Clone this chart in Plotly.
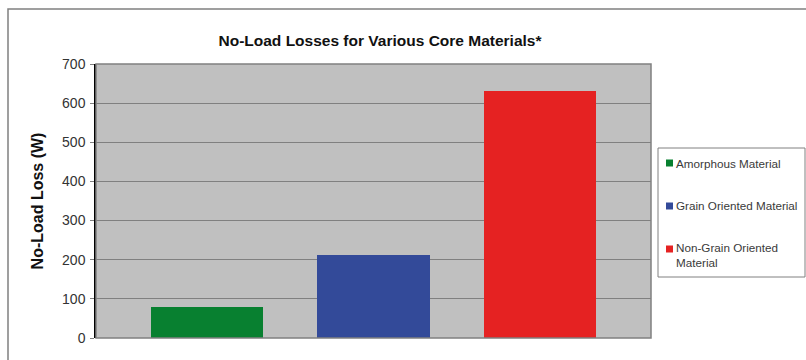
import plotly.graph_objects as go

# ---- data ----
materials = ["Amorphous Material", "Grain Oriented Material", "Non-Grain Oriented Material"]
legend_labels = ["Amorphous Material", "Grain Oriented Material", "Non-Grain Oriented<br>Material"]
losses_w = [80, 211, 630]
bar_colors = ["#088030", "#334A99", "#E52222"]
y_ticks = [0, 100, 200, 300, 400, 500, 600, 700]

W, H = 806, 360
L, R, T, B = 96, 651, 64, 338  # plot area in px


def px(x):
    return (x - L) / (R - L)


def py(y):
    return (B - y) / (B - T)


fig = go.Figure()
for i, (name, val, col) in enumerate(zip(materials, losses_w, bar_colors)):
    fig.add_trace(go.Bar(
        x=[i], y=[val], name=name, width=0.675,
        marker=dict(color=col, line=dict(width=0)),
        showlegend=False,
        hovertemplate=name + ": %{y} W<extra></extra>",
    ))

shapes = []
# outer chart border (cropped on right/bottom)
shapes.append(dict(type="rect", xref="paper", yref="paper",
                   x0=px(8), x1=px(830), y0=py(9), y1=py(400),
                   line=dict(color="#808080", width=1.5), layer="below"))
# plot area border (gray)
shapes.append(dict(type="rect", xref="paper", yref="paper",
                   x0=0, x1=1, y0=0, y1=1,
                   line=dict(color="#808080", width=1.5), layer="above"))
# legend box
shapes.append(dict(type="rect", xref="paper", yref="paper",
                   x0=px(658), x1=px(805), y0=py(148), y1=py(277),
                   line=dict(color="#808080", width=1), fillcolor="white"))

annotations = []
legend_y = [163, 206, 255]
for lab, col, yc in zip(legend_labels, bar_colors, legend_y):
    sq_y = yc if "<br>" not in lab else yc - 6
    shapes.append(dict(type="rect", xref="paper", yref="paper",
                       x0=px(666), x1=px(673), y0=py(sq_y - 3.5), y1=py(sq_y + 3.5),
                       line=dict(width=0), fillcolor=col))
    annotations.append(dict(xref="paper", yref="paper", x=px(674), y=py(yc),
                            xanchor="left", yanchor="middle", align="left",
                            text=lab, showarrow=False,
                            font=dict(family="Liberation Sans, Arial", size=11.7, color="#3a3a3a")))

fig.update_layout(
    width=W, height=H,
    margin=dict(l=L, r=W - R, t=T, b=H - B),
    paper_bgcolor="white",
    plot_bgcolor="#C0C0C0",
    font=dict(family="Liberation Sans, Arial", color="#333333"),
    title=dict(text="<b>No-Load Losses for Various Core Materials*</b>",
               xref="container", yref="container",
               x=380 / W, y=1 - 41 / H, xanchor="center", yanchor="middle",
               font=dict(family="Liberation Sans, Arial", size=15.5, color="#111111")),
    xaxis=dict(range=[-0.669, 2.669], showticklabels=False, showgrid=False,
               zeroline=False, ticks="", showline=False, fixedrange=True),
    yaxis=dict(range=[0, 700], tickvals=y_ticks, showgrid=True,
               gridcolor="#808080", gridwidth=1, zeroline=False,
               showline=True, linecolor="black", linewidth=1.5,
               ticks="outside", ticklen=4, tickcolor="#808080",
               ticklabelstandoff=2,
               tickfont=dict(size=14, color="#333333"),
               title=dict(text="<b>No-Load Loss (W)</b>", standoff=14,
                          font=dict(size=16, color="#111111"))),
    shapes=shapes,
    annotations=annotations,
    showlegend=False,
    bargap=0,
)

fig.write_html("out.html")
